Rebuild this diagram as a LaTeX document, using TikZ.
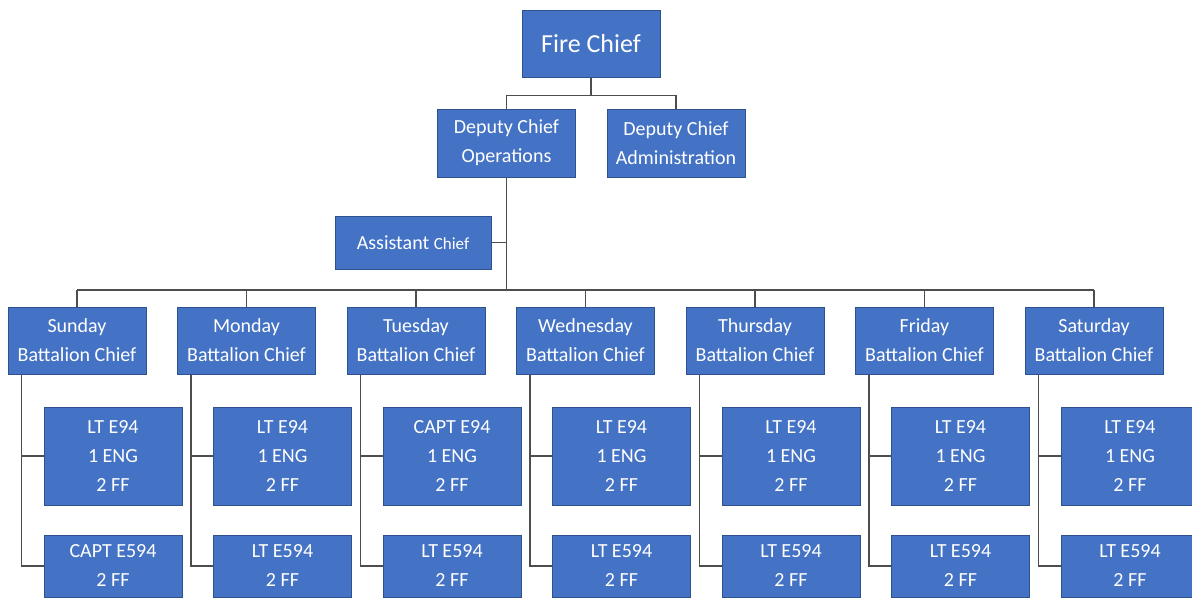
\documentclass[tikz,border=0pt]{standalone}
\usepackage{fontspec}
\setmainfont{Carlito}
\definecolor{boxblue}{HTML}{4472C4}
\definecolor{boxedge}{HTML}{2F528F}
\definecolor{linegray}{HTML}{4D4D4D}
\begin{document}
\begin{tikzpicture}[x=1pt,y=-1pt,
        box/.style={draw=boxedge,fill=boxblue,text=white,line width=1pt,minimum width=138pt,
            inner sep=0pt,align=center,font=\fontsize{20}{29}\selectfont},
        link/.style={draw=linegray,line width=1.4pt}]
    \useasboundingbox (0,0) rectangle (1192,598);
    \clip (0,0) rectangle (1192,598);
    \node[box,minimum height=67pt,font=\fontsize{26}{29}\selectfont] (fire) at (591,43.5) {Fire Chief};
    \node[box,minimum height=68pt] (ops) at (506.5,143) {Deputy Chief\\Operations};
    \node[box,minimum height=68pt] (admin) at (676,143) {Deputy Chief\\Administration};
    \node[box,minimum width=156pt,minimum height=53pt] (asst) at (413,242.5) {Assistant {\fontsize{17}{20}\selectfont Chief}};
    \coordinate (bus) at (0,290);
    \draw[link] (fire.south) -- ++(0,18) coordinate (fork) -| (ops.north) (fork) -| (admin.north);
    \draw[link] (ops.south) -- (ops.south |- bus);
    \draw[link] (asst.east) -- (asst.east -| ops.south);
    \foreach \day/\crew/\eng [count=\i] in {Sunday/LT E94/CAPT E594,Monday/LT E94/LT E594,
            Tuesday/CAPT E94/LT E594,Wednesday/LT E94/LT E594,Thursday/LT E94/LT E594,
            Friday/LT E94/LT E594,Saturday/LT E94/LT E594} {
        \node[box,minimum height=67pt] (bc\i) at ({77+169.5*(\i-1)},340.5) {\day\\Battalion Chief};
        \node[box,minimum height=98pt] (top\i) at ({113+169.5*(\i-1)},456) {\crew\\1 ENG\\2 FF};
        \node[box,minimum height=62pt] (bot\i) at ({113+169.5*(\i-1)},566) {\eng\\2 FF};
        \coordinate (spine\i) at ([xshift=14pt]bc\i.south west);
        \draw[link] (bc\i.north |- bus) -- (bc\i.north);
        \draw[link] (spine\i) |- (bot\i.west);
        \draw[link] (spine\i |- top\i.west) -- (top\i.west);
    }
    \draw[link] (bc1.north |- bus) -- (bc7.north |- bus);
\end{tikzpicture}
\end{document}
